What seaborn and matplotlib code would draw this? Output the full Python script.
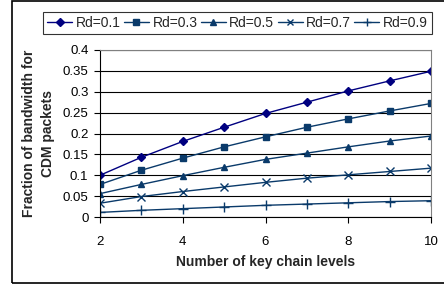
import pandas as pd
import matplotlib.pyplot as plt
import seaborn as sns
from matplotlib.patches import Rectangle
from matplotlib.ticker import MultipleLocator

# key chain levels
levels = [2, 3, 4, 5, 6, 7, 8, 9, 10]
rd_labels = ['Rd=0.1', 'Rd=0.3', 'Rd=0.5', 'Rd=0.7', 'Rd=0.9']
rd01 = [0.100, 0.143, 0.181, 0.215, 0.248, 0.275, 0.302, 0.326, 0.349]
rd03 = [0.078, 0.112, 0.141, 0.168, 0.192, 0.215, 0.235, 0.254, 0.272]
rd05 = [0.056, 0.078, 0.099, 0.119, 0.138, 0.153, 0.168, 0.182, 0.194]
rd07 = [0.033, 0.049, 0.061, 0.072, 0.083, 0.093, 0.101, 0.109, 0.117]
rd09 = [0.011, 0.016, 0.020, 0.024, 0.028, 0.031, 0.034, 0.037, 0.039]
ytick_labels = ['0', '0.05', '0.1', '0.15', '0.2', '0.25', '0.3', '0.35', '0.4']

series = [rd01, rd03, rd05, rd07, rd09]
rows = []
for lab, vals in zip(rd_labels, series):
    for x, y in zip(levels, vals):
        rows.append({'level': x, 'frac': y, 'Rd': lab})
df = pd.DataFrame(rows)

sns.set_style('white')
plt.rcParams['font.family'] = ['Liberation Sans', 'DejaVu Sans']

fig = plt.figure(figsize=(4.44, 2.87), dpi=100)
ax = fig.add_axes([100/444, 1-217/287, 331/444, 167/287])

colors = ['#000080', '#0a3a6a', '#0a3a6a', '#0a3a6a', '#0a3a6a']
markers = ['D', 's', '^', 'x', '+']
msizes = [4.5, 4.5, 5, 5.5, 6.5]

for lab, c, m, ms in zip(rd_labels, colors, markers, msizes):
    sns.lineplot(data=df[df['Rd'] == lab], x='level', y='frac', color=c,
                 marker=m, markersize=ms, markeredgewidth=1.0,
                 markeredgecolor=c, linewidth=1.0, label=lab, ax=ax)

ax.set_xlim(2, 10)
ax.set_ylim(0, 0.4)
ax.xaxis.set_major_locator(MultipleLocator(2))
ax.set_yticks([0, 0.05, 0.1, 0.15, 0.2, 0.25, 0.3, 0.35, 0.4])
ax.set_yticklabels(ytick_labels)
ax.grid(axis='y', color='black', linewidth=0.8)
ax.set_axisbelow(True)
ax.tick_params(axis='both', direction='out', length=4, width=0.8,
               labelsize=9.5, colors='black', left=True, bottom=True)
ax.yaxis.set_tick_params(pad=4.3)
ax.xaxis.set_tick_params(pad=10)
for s in ['left', 'bottom']:
    ax.spines[s].set_color('black')
    ax.spines[s].set_linewidth(0.8)
for s in ['top', 'right']:
    ax.spines[s].set_color('#808080')
    ax.spines[s].set_linewidth(0.8)

ax.set_xlabel('Number of key chain levels', fontsize=10, fontweight='bold')
ax.xaxis.set_label_coords(0.5, -(262-217)/167)
ax.xaxis.label.set_va('center')
ax.set_ylabel('Fraction of bandwidth for\nCDM packets', fontsize=10,
              fontweight='bold', linespacing=1.4)
ax.yaxis.set_label_coords((38.5-100)/331, 0.5)
ax.yaxis.label.set_va('center')

handles, labels = ax.get_legend_handles_labels()
ax.get_legend().remove()
leg = fig.legend(handles, labels, loc='lower left', ncol=5, mode='expand',
                 bbox_to_anchor=(43/444, 1-34/287, 389/444, 25/287),
                 fontsize=10, frameon=True, fancybox=False, borderaxespad=0,
                 handlelength=1.8, handletextpad=0.25, columnspacing=0.3,
                 borderpad=0.3, markerscale=0.85)
leg.get_frame().set_edgecolor('black')
leg.get_frame().set_linewidth(0.8)

# outer chart frame
fig.add_artist(Rectangle((12/444, 1-283/287), 440/444, 282/287,
                         transform=fig.transFigure, fill=False,
                         edgecolor='black', linewidth=1.2))

fig.savefig('out.png', dpi=100)
